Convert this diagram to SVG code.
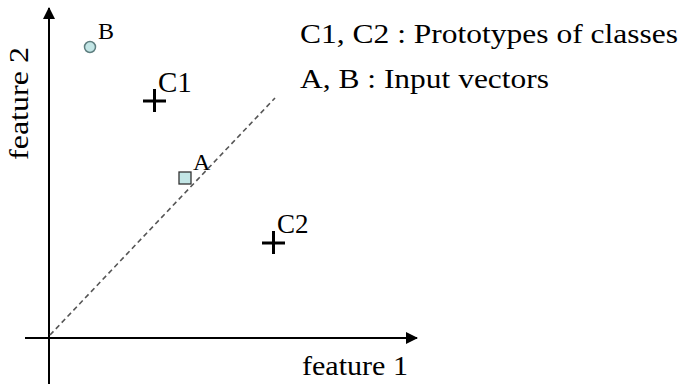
<svg xmlns="http://www.w3.org/2000/svg" width="680" height="384" viewBox="0 0 680 384">
<style>
text{font-family:'Liberation Serif',Tinos,serif;fill:#000;font-size:28px;}
.cross{stroke:#000;stroke-width:3;}
.axis{stroke:#000;stroke-width:2;fill:none;}
</style>
<defs>
<marker id="arr" markerWidth="12" markerHeight="12" refX="11" refY="6" orient="auto" markerUnits="userSpaceOnUse">
<path d="M0,0 L12,6 L0,12 Z" fill="#000"/>
</marker>
</defs>
<rect width="680" height="384" fill="#fff"/>
<g id="connectors">
<line class="axis" x1="49" y1="384" x2="49" y2="8" marker-end="url(#arr)"/>
<line class="axis" x1="25" y1="338" x2="417" y2="338" marker-end="url(#arr)"/>
<line x1="50" y1="335" x2="275" y2="98" stroke="#555" stroke-width="1.6" stroke-dasharray="5,3.5"/>
</g>
<g id="axis-labels">
<text x="302" y="375" textLength="106" lengthAdjust="spacingAndGlyphs">feature 1</text>
<text transform="translate(28,160) rotate(-90)" x="0" y="0" textLength="113" lengthAdjust="spacingAndGlyphs">feature 2</text>
</g>
<g id="legend">
<text x="300" y="43" textLength="378" lengthAdjust="spacingAndGlyphs">C1, C2 : Prototypes of classes</text>
<text x="300" y="88" textLength="249" lengthAdjust="spacingAndGlyphs">A, B : Input vectors</text>
</g>
<g id="B">
<circle cx="90" cy="47" r="5.5" fill="#c3e6e6" stroke="#5f7f80" stroke-width="1.5"/>
<text x="98" y="39" font-size="24" style="font-size:24px">B</text>
</g>
<g id="C1">
<path class="cross" d="M143,101 H166 M154.5,89 V112"/>
<text x="158" y="92" style="font-size:29px">C1</text>
</g>
<g id="A">
<rect x="179" y="172" width="12" height="12" fill="#c3e6e6" stroke="#333" stroke-width="1.3"/>
<text x="193" y="170" style="font-size:24px">A</text>
</g>
<g id="C2">
<path class="cross" d="M262,243 H285 M273.5,231 V254"/>
<text x="277" y="233" style="font-size:27px">C2</text>
</g>
</svg>
